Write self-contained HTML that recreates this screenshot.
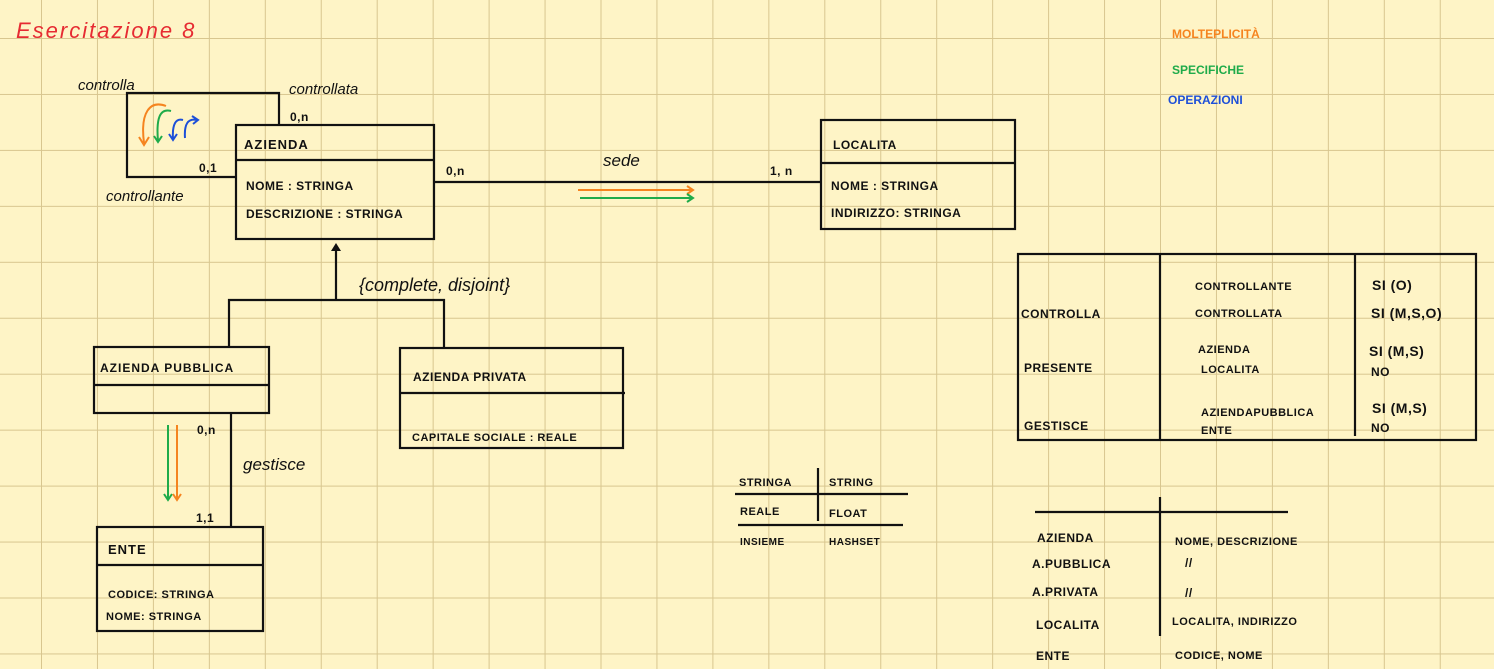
<!DOCTYPE html>
<html><head><meta charset="utf-8">
<style>
html,body{margin:0;padding:0;background:#fef4c6;}
svg{display:block;}
text{font-family:"Liberation Sans",sans-serif;fill:#111;}
.h{font-size:13px;font-weight:bold;letter-spacing:1px;}
.s{font-size:12px;font-weight:bold;letter-spacing:0.5px;}
.c{font-size:16px;font-style:italic;}
</style></head>
<body>
<svg width="1494" height="669" viewBox="0 0 1494 669" xmlns="http://www.w3.org/2000/svg">
<defs>
<pattern id="g" x="41" y="38" width="55.95" height="55.95" patternUnits="userSpaceOnUse">
<path d="M0 0V55.95M0 0H55.95" stroke="#d8c68f" stroke-width="2" fill="none"/>
</pattern>
</defs>
<rect width="1494" height="669" fill="#fef4c6"/>
<rect width="1494" height="669" fill="url(#g)"/>

<text x="16" y="38" style="font-size:22px;fill:#e62b32;font-style:italic;letter-spacing:2px">Esercitazione 8</text>
<text x="1172" y="38" style="font-size:12px;fill:#f5841f;font-weight:bold">MOLTEPLICITÀ</text>
<text x="1172" y="74" style="font-size:12px;fill:#1fab4a;font-weight:bold">SPECIFICHE</text>
<text x="1168" y="104" style="font-size:12px;fill:#1d4fd8;font-weight:bold">OPERAZIONI</text>

<g stroke="#111" stroke-width="2.2" fill="none">
<!-- self loop -->
<path d="M236 177H127V93H279V125"/>
<!-- Azienda -->
<rect x="236" y="125" width="198" height="114"/>
<line x1="236" y1="160" x2="434" y2="160"/>
<!-- sede -->
<line x1="434" y1="182" x2="821" y2="182"/>
<!-- Localita -->
<rect x="821" y="120" width="194" height="109"/>
<line x1="821" y1="163" x2="1015" y2="163"/>
<!-- generalization -->
<path d="M336 250V300M229 347V300H444V348"/>
<!-- Azienda pubblica -->
<rect x="94" y="347" width="175" height="66"/>
<line x1="94" y1="385" x2="270" y2="385"/>
<!-- Azienda privata -->
<rect x="400" y="348" width="223" height="100"/>
<line x1="400" y1="393" x2="625" y2="393"/>
<!-- gestisce -->
<line x1="231" y1="413" x2="231" y2="527"/>
<!-- Ente -->
<rect x="97" y="527" width="166" height="104"/>
<line x1="97" y1="565" x2="263" y2="565"/>
<!-- types table -->
<line x1="818" y1="468" x2="818" y2="521"/>
<line x1="735" y1="494" x2="908" y2="494"/>
<line x1="738" y1="525" x2="903" y2="525"/>
<!-- right table -->
<rect x="1018" y="254" width="458" height="186"/>
<line x1="1160" y1="254" x2="1160" y2="440"/>
<line x1="1355" y1="254" x2="1355" y2="436"/>
<!-- bottom table -->
<line x1="1035" y1="512" x2="1288" y2="512"/>
<line x1="1160" y1="497" x2="1160" y2="636"/>
</g>
<polygon points="336,243 331,251 341,251" fill="#111"/>

<!-- colored arrows loop -->
<g fill="none" stroke-width="2">
<path d="M166 106C150 100 140 112 144 143M139 137L144 145L149 137" stroke="#f5841f"/>
<path d="M171 111C160 108 156 118 158 141M154 136L158 142L162 136" stroke="#1fab4a"/>
<path d="M183 120C176 118 172 124 173 139M169 134L173 140L177 134" stroke="#1d4fd8"/>
<path d="M185 138C184 124 188 118 197 120M192 116L198 120L193 124" stroke="#1d4fd8"/>
<path d="M578 190H692M687 186L693 190L687 194" stroke="#f5841f"/>
<path d="M580 198H692M687 194L693 198L687 202" stroke="#1fab4a"/>
<path d="M168 425V500M164 494L168 500L172 494" stroke="#1fab4a"/>
<path d="M177 425V500M173 494L177 500L181 494" stroke="#f5841f"/>
</g>

<!-- loop labels -->
<text x="78" y="90" class="c" style="font-size:15px">controlla</text>
<text x="289" y="94" class="c" style="font-size:15px">controllata</text>
<text x="290" y="121" class="s">0,n</text>
<text x="199" y="172" class="s">0,1</text>
<text x="106" y="201" class="c" style="font-size:15px">controllante</text>

<text x="244" y="149" class="h">AZIENDA</text>
<text x="246" y="190" class="s">NOME : STRINGA</text>
<text x="246" y="218" class="s">DESCRIZIONE : STRINGA</text>

<text x="446" y="175" class="s">0,n</text>
<text x="603" y="166" class="c" style="font-size:17px">sede</text>
<text x="770" y="175" class="s">1, n</text>

<text x="833" y="149" class="s">LOCALITA</text>
<text x="831" y="190" class="s">NOME : STRINGA</text>
<text x="831" y="217" class="s">INDIRIZZO: STRINGA</text>

<text x="359" y="291" class="c" style="font-size:18px">{complete, disjoint}</text>

<text x="100" y="372" class="h" style="font-size:12px">AZIENDA PUBBLICA</text>
<text x="413" y="381" class="s">AZIENDA PRIVATA</text>
<text x="412" y="441" class="s" style="font-size:11px">CAPITALE SOCIALE : REALE</text>

<text x="197" y="434" class="s">0,n</text>
<text x="243" y="470" class="c" style="font-size:17px">gestisce</text>
<text x="196" y="522" class="s">1,1</text>

<text x="108" y="554" class="h">ENTE</text>
<text x="108" y="598" class="s" style="font-size:11px">CODICE: STRINGA</text>
<text x="106" y="620" class="s" style="font-size:11px">NOME: STRINGA</text>

<text x="739" y="486" class="s" style="font-size:11px">STRINGA</text>
<text x="829" y="486" class="s" style="font-size:11px">STRING</text>
<text x="740" y="515" class="s" style="font-size:11px">REALE</text>
<text x="829" y="517" class="s" style="font-size:11px">FLOAT</text>
<text x="740" y="545" class="s" style="font-size:10px">INSIEME</text>
<text x="829" y="545" class="s" style="font-size:10px">HASHSET</text>

<text x="1021" y="318" class="s">CONTROLLA</text>
<text x="1024" y="372" class="s">PRESENTE</text>
<text x="1024" y="430" class="s">GESTISCE</text>
<text x="1195" y="290" class="s" style="font-size:11px">CONTROLLANTE</text>
<text x="1195" y="317" class="s" style="font-size:11px">CONTROLLATA</text>
<text x="1198" y="353" class="s" style="font-size:11px">AZIENDA</text>
<text x="1201" y="373" class="s" style="font-size:11px">LOCALITA</text>
<text x="1201" y="416" class="s" style="font-size:11px">AZIENDAPUBBLICA</text>
<text x="1201" y="434" class="s" style="font-size:11px">ENTE</text>
<text x="1372" y="290" class="s" style="font-size:14px">SI (O)</text>
<text x="1371" y="318" class="s" style="font-size:14px">SI (M,S,O)</text>
<text x="1369" y="356" class="s" style="font-size:14px">SI (M,S)</text>
<text x="1371" y="376" class="s">NO</text>
<text x="1372" y="413" class="s" style="font-size:14px">SI (M,S)</text>
<text x="1371" y="432" class="s">NO</text>

<text x="1037" y="542" class="s">AZIENDA</text>
<text x="1032" y="568" class="s">A.PUBBLICA</text>
<text x="1032" y="596" class="s">A.PRIVATA</text>
<text x="1036" y="629" class="s">LOCALITA</text>
<text x="1036" y="660" class="s">ENTE</text>
<text x="1175" y="545" class="s" style="font-size:11px">NOME, DESCRIZIONE</text>
<text x="1185" y="567" class="s">//</text>
<text x="1185" y="597" class="s">//</text>
<text x="1172" y="625" class="s" style="font-size:11px">LOCALITA, INDIRIZZO</text>
<text x="1175" y="659" class="s" style="font-size:11px">CODICE, NOME</text>
</svg>
</body></html>
